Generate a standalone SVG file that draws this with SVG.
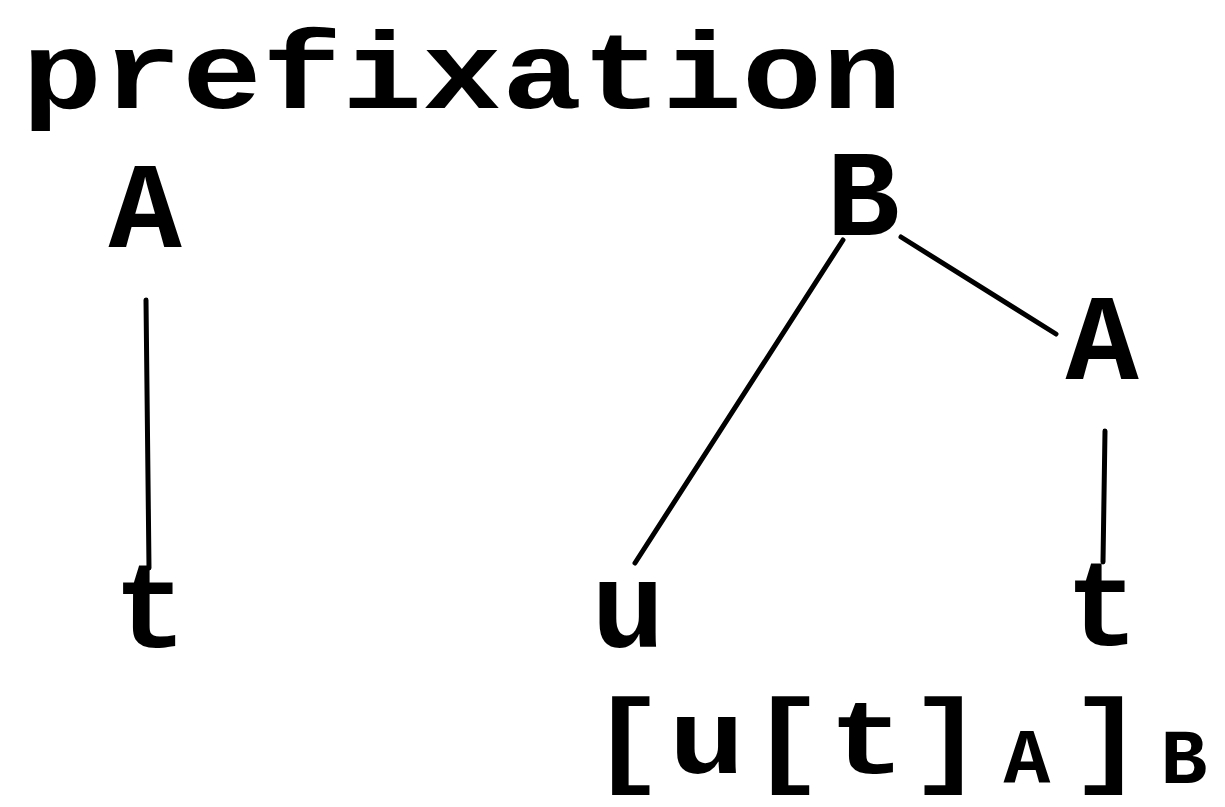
<svg xmlns="http://www.w3.org/2000/svg" width="1225" height="807" viewBox="0 0 1225 807">
  <style>
    .t { font-family: "Liberation Mono", "Courier New", monospace; font-weight: bold; fill: #000; }
    .node { font-size: 122px; text-anchor: middle; }
    .big { font-size: 105px; text-anchor: middle; }
    .sub { font-size: 78px; text-anchor: middle; }
    .edge { stroke: #000; stroke-width: 5; stroke-linecap: round; fill: none; }
  </style>
  <rect width="1225" height="807" fill="#fff"/>
  <g id="title">
    <text class="t" x="22" y="108" font-size="110" textLength="880" lengthAdjust="spacingAndGlyphs">prefixation</text>
  </g>
  <g id="connectors">
    <line class="edge" x1="146" y1="300" x2="149" y2="568" stroke-width="4"/>
    <line class="edge" x1="843" y1="240" x2="635" y2="563"/>
    <line class="edge" x1="901" y1="237" x2="1056" y2="334"/>
    <line class="edge" x1="1105" y1="431" x2="1103" y2="562"/>
  </g>
  <g id="node-A-left"><text class="t node" x="145" y="247">A</text></g>
  <g id="node-t-left"><text class="t node" x="150" y="647">t</text></g>
  <g id="node-B"><text class="t node" x="863" y="235">B</text></g>
  <g id="node-u"><text class="t node" x="628" y="647">u</text></g>
  <g id="node-A-right"><text class="t node" x="1102" y="379">A</text></g>
  <g id="node-t-right"><text class="t node" x="1102" y="645">t</text></g>
  <g id="bracketing">
    <text class="t big" transform="scale(1.21,1)" y="773" x="518.2 584.3 650.4 716.5 782.6">[u[t]</text>
    <text class="t sub" x="1027" y="783">A</text>
    <text class="t big" transform="scale(1.21,1)" y="773" x="914.9">]</text>
    <text class="t sub" x="1184" y="783">B</text>
  </g>
</svg>
